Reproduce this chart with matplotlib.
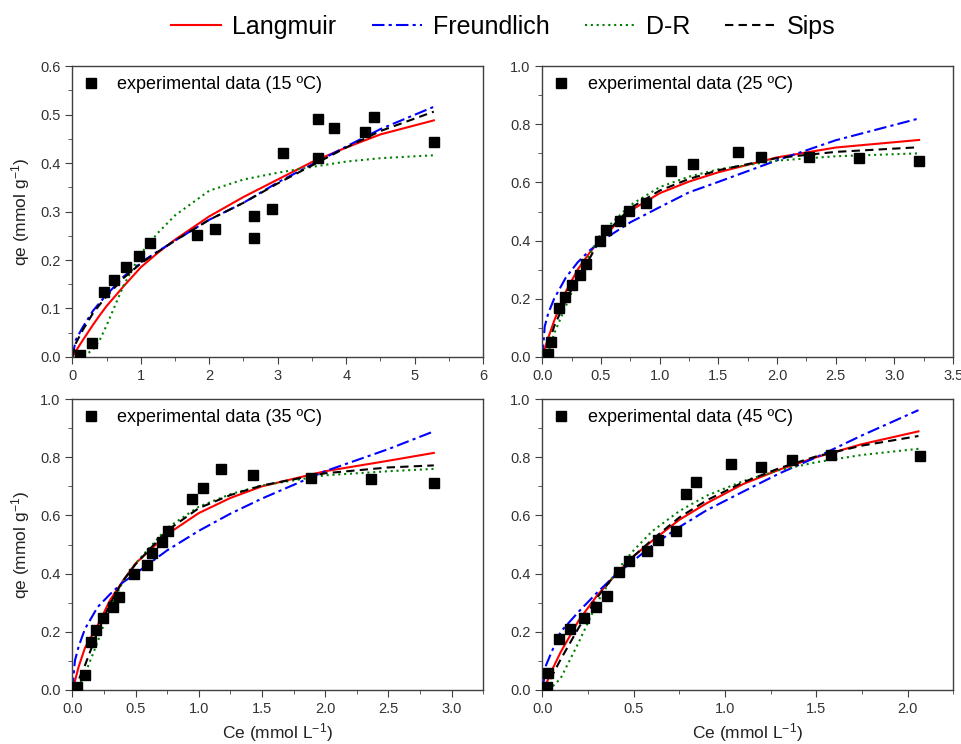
import numpy as np
import matplotlib
matplotlib.use('Agg')
import matplotlib.pyplot as plt
from matplotlib.ticker import MultipleLocator, FormatStrFormatter

plt.rcParams['font.family'] = ['Liberation Sans', 'DejaVu Sans']
plt.rcParams['mathtext.default'] = 'regular'

ce15 = [0.11, 0.28, 0.46, 0.61, 0.78, 0.97, 1.14, 1.82, 2.08, 2.65, 2.65, 2.92, 3.08, 3.59, 3.59, 3.82, 4.28, 4.41, 5.28]
qe15 = [0.005, 0.029, 0.134, 0.159, 0.185, 0.209, 0.236, 0.251, 0.264, 0.290, 0.246, 0.306, 0.420, 0.491, 0.411, 0.473, 0.465, 0.495, 0.443]

ce25 = [0.045, 0.074, 0.14, 0.19, 0.25, 0.32, 0.37, 0.49, 0.54, 0.66, 0.74, 0.88, 1.10, 1.28, 1.67, 1.86, 2.27, 2.70, 3.21]
qe25 = [0.010, 0.050, 0.170, 0.206, 0.247, 0.283, 0.320, 0.397, 0.435, 0.468, 0.503, 0.531, 0.641, 0.664, 0.705, 0.686, 0.689, 0.685, 0.675]

ce35 = [0.034, 0.10, 0.15, 0.19, 0.24, 0.32, 0.37, 0.49, 0.59, 0.63, 0.71, 0.76, 0.95, 1.03, 1.18, 1.43, 1.89, 2.36, 2.86]
qe35 = [0.011, 0.050, 0.166, 0.206, 0.247, 0.285, 0.320, 0.397, 0.431, 0.471, 0.508, 0.545, 0.658, 0.694, 0.759, 0.739, 0.730, 0.725, 0.712]

ce45 = [0.024, 0.029, 0.091, 0.151, 0.23, 0.294, 0.352, 0.42, 0.476, 0.571, 0.635, 0.732, 0.785, 0.843, 1.031, 1.197, 1.367, 1.58, 2.066]
qe45 = [0.011, 0.059, 0.174, 0.211, 0.248, 0.285, 0.324, 0.405, 0.445, 0.479, 0.516, 0.548, 0.675, 0.716, 0.776, 0.765, 0.789, 0.807, 0.803]

# fitted isotherm curves
x15 = [0, 0.05, 0.15, 0.3, 0.4, 0.5, 0.75, 1.0, 1.25, 1.5, 2.0, 2.5, 3.0, 3.5, 4.0, 4.5, 5.28]
lang15 = [0, 0.012, 0.034, 0.066, 0.086, 0.105, 0.146, 0.185, 0.215, 0.242, 0.290, 0.330, 0.366, 0.402, 0.432, 0.459, 0.488]
freu15 = [0, 0.035, 0.061, 0.095, 0.112, 0.128, 0.166, 0.195, 0.218, 0.240, 0.283, 0.318, 0.360, 0.397, 0.434, 0.470, 0.516]
dr15 = [0, 0, 0, 0.015, 0.035, 0.065, 0.148, 0.213, 0.256, 0.292, 0.343, 0.366, 0.380, 0.392, 0.403, 0.410, 0.416]
sips15 = [0, 0.028, 0.055, 0.090, 0.108, 0.125, 0.163, 0.193, 0.217, 0.240, 0.283, 0.318, 0.358, 0.395, 0.432, 0.466, 0.506]

x25 = [0, 0.02, 0.05, 0.1, 0.2, 0.3, 0.4, 0.5, 0.75, 1.0, 1.25, 1.5, 2.0, 2.5, 3.21]
lang25 = [0, 0.028, 0.066, 0.124, 0.225, 0.300, 0.357, 0.407, 0.503, 0.563, 0.603, 0.635, 0.686, 0.720, 0.746]
freu25 = [0, 0.105, 0.150, 0.200, 0.273, 0.325, 0.365, 0.398, 0.463, 0.515, 0.566, 0.602, 0.676, 0.745, 0.820]
dr25 = [0, 0, 0.015, 0.080, 0.175, 0.270, 0.350, 0.425, 0.522, 0.584, 0.620, 0.645, 0.675, 0.690, 0.700]
sips25 = [0, 0.010, 0.040, 0.105, 0.195, 0.270, 0.337, 0.410, 0.512, 0.572, 0.612, 0.642, 0.684, 0.705, 0.721]

x35 = [0, 0.02, 0.05, 0.1, 0.2, 0.3, 0.4, 0.5, 0.75, 1.0, 1.25, 1.5, 2.0, 2.5, 2.86]
lang35 = [0, 0.030, 0.080, 0.145, 0.222, 0.310, 0.375, 0.435, 0.535, 0.608, 0.660, 0.700, 0.752, 0.788, 0.815]
freu35 = [0, 0.100, 0.150, 0.210, 0.285, 0.330, 0.370, 0.400, 0.480, 0.547, 0.606, 0.658, 0.752, 0.828, 0.889]
dr35 = [0, 0, 0.012, 0.055, 0.165, 0.286, 0.372, 0.435, 0.557, 0.630, 0.673, 0.703, 0.738, 0.752, 0.760]
sips35 = [0, 0.010, 0.035, 0.085, 0.200, 0.298, 0.375, 0.432, 0.548, 0.625, 0.670, 0.703, 0.745, 0.765, 0.772]

x45 = [0, 0.02, 0.05, 0.1, 0.2, 0.3, 0.4, 0.5, 0.6, 0.75, 0.9, 1.1, 1.3, 1.5, 1.75, 2.06]
lang45 = [0, 0.020, 0.065, 0.130, 0.240, 0.325, 0.395, 0.460, 0.512, 0.585, 0.642, 0.708, 0.758, 0.800, 0.845, 0.889]
freu45 = [0, 0.085, 0.130, 0.200, 0.270, 0.335, 0.395, 0.445, 0.496, 0.560, 0.618, 0.682, 0.745, 0.800, 0.875, 0.962]
dr45 = [0, 0, 0.008, 0.040, 0.165, 0.300, 0.405, 0.480, 0.545, 0.615, 0.668, 0.718, 0.756, 0.783, 0.808, 0.829]
sips45 = [0, 0.012, 0.045, 0.105, 0.215, 0.318, 0.398, 0.460, 0.516, 0.593, 0.652, 0.714, 0.763, 0.803, 0.840, 0.873]

temps = ['15', '25', '35', '45']


def draw(ax, ce, qe, xc, lang, freu, dr, sips, temp):
    l1, = ax.plot(xc, lang, color='red', lw=1.5, ls='-', label='Langmuir')
    l2, = ax.plot(xc, freu, color='blue', lw=1.5, ls=(0, (6, 2, 1.5, 2)), label='Freundlich')
    l3, = ax.plot(xc, dr, color='green', lw=1.5, ls=(0, (1, 1.8)), label='D-R')
    l4, = ax.plot(xc, sips, color='black', lw=1.5, ls=(0, (4, 2.5)), label='Sips')
    pts, = ax.plot(ce, qe, 's', color='black', ms=7, ls='none', zorder=5,
                   label='experimental data (' + temp + ' \u00baC)')
    ax.legend(handles=[pts], loc='upper left', frameon=False, fontsize=13,
              handlelength=1.0, handletextpad=0.95, borderaxespad=0.35,
              borderpad=0.2)
    for s in ax.spines.values():
        s.set_color('#404040')
        s.set_linewidth(1.0)
    ax.tick_params(which='both', direction='out', top=False, right=False,
                   colors='#404040', labelsize=10.5, labelcolor='#333333')
    ax.tick_params(which='major', length=5)
    ax.tick_params(which='minor', length=3)
    return [l1, l2, l3, l4]


fig = plt.figure(figsize=(9.62, 7.44), dpi=100)
w = 0.427
h = 0.391
ax1 = fig.add_axes([0.0752, 0.5202, w, h])
ax2 = fig.add_axes([0.5638, 0.5202, w, h])
ax3 = fig.add_axes([0.0752, 0.0726, w, h])
ax4 = fig.add_axes([0.5638, 0.0726, w, h])

lines = draw(ax1, ce15, qe15, x15, lang15, freu15, dr15, sips15, temps[0])
draw(ax2, ce25, qe25, x25, lang25, freu25, dr25, sips25, temps[1])
draw(ax3, ce35, qe35, x35, lang35, freu35, dr35, sips35, temps[2])
draw(ax4, ce45, qe45, x45, lang45, freu45, dr45, sips45, temps[3])

ax1.set_xlim(0, 6)
ax1.set_ylim(0, 0.6)
ax1.xaxis.set_major_locator(MultipleLocator(1))
ax1.xaxis.set_minor_locator(MultipleLocator(0.5))
ax1.yaxis.set_major_locator(MultipleLocator(0.1))
ax1.yaxis.set_minor_locator(MultipleLocator(0.05))
ax1.xaxis.set_major_formatter(FormatStrFormatter('%d'))
ax1.yaxis.set_major_formatter(FormatStrFormatter('%.1f'))

ax2.set_xlim(0, 3.5)
ax2.set_ylim(0, 1.0)
ax3.set_xlim(0, 3.25)
ax3.set_ylim(0, 1.0)
ax4.set_xlim(0, 2.25)
ax4.set_ylim(0, 1.0)
for ax in [ax2, ax3, ax4]:
    ax.xaxis.set_major_locator(MultipleLocator(0.5))
    ax.xaxis.set_minor_locator(MultipleLocator(0.25))
    ax.yaxis.set_major_locator(MultipleLocator(0.2))
    ax.yaxis.set_minor_locator(MultipleLocator(0.1))
    ax.xaxis.set_major_formatter(FormatStrFormatter('%.1f'))
    ax.yaxis.set_major_formatter(FormatStrFormatter('%.1f'))

for ax in [ax1, ax3]:
    ax.set_ylabel('qe (mmol g$^{-1}$)', fontsize=12.5, color='#222222', labelpad=6)
for ax in [ax3, ax4]:
    ax.set_xlabel('Ce (mmol L$^{-1}$)', fontsize=12.5, color='#222222', labelpad=4)

fig.legend(handles=lines, loc='center', bbox_to_anchor=(0.523, 0.964), ncol=4,
           frameon=False, fontsize=18, handlelength=2.0, handletextpad=0.45,
           columnspacing=1.4)

fig.savefig('out.png', dpi=100)
